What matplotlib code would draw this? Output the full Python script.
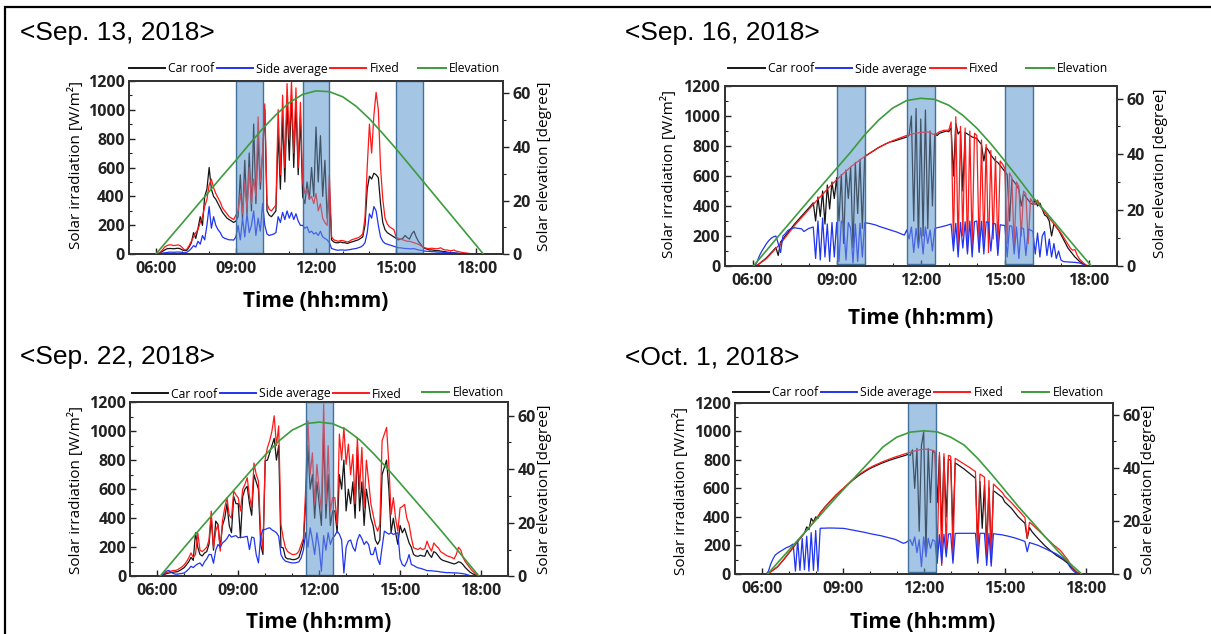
import numpy as np
import matplotlib
matplotlib.use("Agg")
import matplotlib.pyplot as plt
from matplotlib.lines import Line2D
from matplotlib.patches import Rectangle
from matplotlib.ticker import MultipleLocator

# ---------------- data (5-minute samples from 05:00 to 19:00, one row per hour) ----------------
Z12 = [0] * 12

p1_roof = (Z12 +
    [0, 3, 10, 20, 30, 38, 40, 40, 38, 40, 42, 38] +
    [30, 25, 28, 50, 80, 150, 110, 180, 260, 200, 400, 450] +
    [600, 450, 400, 380, 350, 320, 290, 270, 250, 240, 230, 220] +
    [230, 260, 550, 240, 650, 280, 700, 300, 900, 350, 800, 450] +
    [700, 1000, 300, 270, 260, 280, 300, 850, 450, 950, 500, 1050] +
    [650, 1100, 600, 1050, 550, 950, 400, 350, 500, 380, 600, 400] +
    [880, 500, 820, 400, 650, 250, 450, 100, 85, 80, 80, 85] +
    [80, 80, 75, 80, 85, 90, 95, 100, 110, 120, 200, 450] +
    [540, 520, 560, 550, 530, 350, 220, 170, 150, 140, 130, 120] +
    [110, 100, 105, 110, 130, 115, 105, 140, 160, 120, 90, 70] +
    [50, 40, 35, 30, 30, 28, 25, 25, 22, 20, 18, 15] +
    [12, 10, 10, 8, 6, 5, 4, 3, 2, 1, 0, 0] +
    Z12 + [0])
p1_side = (Z12 +
    [0, 2, 5, 8, 10, 12, 15, 15, 14, 15, 16, 15] +
    [12, 10, 15, 25, 40, 60, 50, 90, 70, 130, 100, 200] +
    [330, 180, 260, 200, 170, 150, 120, 110, 105, 100, 100, 98] +
    [120, 200, 100, 250, 120, 280, 150, 200, 300, 130, 250, 160] +
    [350, 200, 140, 130, 135, 140, 150, 260, 220, 290, 240, 300] +
    [250, 290, 240, 280, 230, 200, 200, 180, 190, 150, 160, 140] +
    [150, 130, 160, 120, 110, 100, 80, 40, 35, 30, 28, 30] +
    [30, 28, 30, 32, 35, 38, 40, 45, 50, 60, 80, 150] +
    [280, 250, 330, 300, 200, 120, 90, 75, 70, 65, 60, 55] +
    [50, 45, 45, 42, 40, 40, 38, 38, 40, 35, 30, 28] +
    [25, 22, 20, 20, 18, 18, 16, 15, 15, 14, 12, 12] +
    [10, 10, 9, 8, 6, 5, 4, 3, 2, 1, 0, 0] +
    Z12 + [0])
p1_fixed = (Z12 +
    [0, 5, 15, 30, 50, 60, 65, 65, 60, 62, 65, 60] +
    [45, 30, 35, 60, 90, 120, 150, 170, 220, 260, 330, 380] +
    [480, 520, 460, 420, 390, 360, 320, 300, 280, 260, 250, 240] +
    [270, 300, 420, 280, 500, 310, 600, 350, 520, 400, 950, 500] +
    [700, 1040, 350, 310, 300, 320, 340, 1000, 550, 1100, 600, 1180] +
    [800, 1200, 700, 1150, 600, 1050, 500, 420, 450, 380, 400, 350] +
    [420, 300, 350, 250, 220, 200, 550, 120, 100, 95, 90, 95] +
    [95, 90, 85, 90, 100, 105, 110, 115, 125, 140, 250, 600] +
    [900, 700, 960, 1120, 1000, 600, 380, 250, 210, 190, 180, 170] +
    [120, 110, 105, 100, 95, 90, 90, 85, 80, 75, 70, 60] +
    [50, 45, 40, 40, 42, 40, 38, 40, 45, 35, 30, 30] +
    [25, 25, 30, 22, 18, 15, 12, 10, 8, 5, 3, 0] +
    Z12 + [0])

p2_roof = (Z12 +
    [0, 0, 6, 17, 30, 42, 55, 72, 90, 106, 123, 70] +
    [160, 180, 200, 220, 240, 260, 280, 298, 316, 333, 350, 368] +
    [385, 403, 421, 300, 460, 330, 500, 280, 540, 380, 560, 450] +
    [590, 300, 610, 150, 640, 450, 660, 120, 690, 350, 710, 250] +
    [730, 740, 750, 760, 770, 780, 790, 798, 806, 814, 821, 828] +
    [830, 835, 840, 845, 850, 855, 860, 870, 1000, 300, 1050, 150] +
    [980, 200, 1040, 250, 900, 400, 880, 870, 885, 890, 895, 900] +
    [895, 920, 600, 950, 880, 900, 500, 890, 880, 870, 860, 855] +
    [850, 830, 810, 700, 790, 770, 740, 720, 700, 690, 670, 650] +
    [630, 610, 300, 580, 560, 540, 510, 400, 480, 460, 440, 420] +
    [410, 440, 400, 420, 380, 340, 330, 300, 200, 280, 260, 240] +
    [210, 180, 150, 120, 100, 80, 60, 45, 30, 20, 10, 0] +
    Z12 + [0])
p2_side = (Z12 +
    [0, 0, 30, 70, 100, 125, 150, 170, 185, 195, 200, 150] +
    [90, 200, 215, 235, 245, 250, 255, 252, 250, 248, 230, 240] +
    [250, 255, 260, 50, 300, 40, 320, 60, 280, 30, 290, 60] +
    [290, 30, 300, 280, 40, 290, 250, 20, 280, 30, 285, 60] +
    [288, 286, 284, 280, 276, 272, 265, 260, 255, 250, 245, 240] +
    [235, 230, 225, 218, 212, 206, 240, 180, 260, 90, 250, 120] +
    [255, 80, 260, 150, 240, 100, 250, 255, 258, 262, 266, 270] +
    [275, 280, 100, 285, 60, 290, 120, 295, 80, 300, 60, 295] +
    [300, 90, 298, 80, 295, 290, 100, 285, 280, 70, 275, 272] +
    [270, 60, 268, 265, 80, 260, 50, 255, 250, 70, 245, 240] +
    [230, 80, 220, 60, 200, 230, 70, 180, 60, 150, 50, 100] +
    [40, 30, 28, 27, 26, 25, 24, 22, 20, 15, 5, 0] +
    Z12 + [0])
p2_fixed = (Z12 +
    [0, 0, 5, 15, 27, 38, 50, 67, 84, 100, 117, 134] +
    [150, 170, 190, 210, 230, 250, 270, 288, 306, 323, 340, 358] +
    [375, 393, 411, 428, 445, 462, 480, 497, 513, 529, 545, 560] +
    [575, 590, 604, 618, 632, 646, 660, 672, 684, 696, 708, 719] +
    [730, 740, 750, 760, 770, 780, 790, 798, 806, 814, 821, 828] +
    [835, 841, 847, 853, 859, 865, 870, 874, 878, 882, 886, 888] +
    [890, 891, 893, 894, 890, 880, 875, 885, 895, 900, 905, 905] +
    [905, 960, 150, 995, 120, 930, 200, 920, 100, 900, 130, 885] +
    [870, 100, 840, 140, 810, 90, 770, 180, 730, 110, 700, 680] +
    [650, 150, 620, 590, 120, 560, 530, 200, 500, 480, 150, 450] +
    [420, 410, 440, 400, 380, 360, 340, 320, 300, 280, 260, 240] +
    [220, 195, 170, 145, 120, 105, 110, 70, 45, 30, 15, 5] +
    Z12 + [0])

p3_roof = (Z12 +
    [0, 0, 3, 10, 18, 22, 25, 28, 30, 32, 40, 50] +
    [60, 80, 100, 130, 110, 300, 200, 150, 140, 160, 170, 220] +
    [400, 180, 380, 357, 200, 350, 400, 500, 350, 300, 550, 500] +
    [500, 265, 550, 600, 620, 500, 420, 700, 650, 600, 220, 150] +
    [795, 800, 850, 900, 950, 800, 900, 200, 196, 130, 120, 120] +
    [115, 115, 120, 130, 180, 240, 500, 900, 600, 700, 400, 650] +
    [500, 350, 1000, 400, 700, 350, 450, 450, 300, 700, 600, 800] +
    [450, 600, 500, 650, 400, 887, 450, 650, 350, 600, 500, 400] +
    [350, 250, 220, 250, 700, 750, 800, 600, 300, 400, 300, 220] +
    [350, 300, 330, 280, 230, 200, 150, 140, 138, 145, 140, 138] +
    [180, 150, 130, 170, 160, 140, 120, 110, 105, 100, 95, 90] +
    [85, 90, 100, 95, 80, 60, 45, 30, 20, 12, 5, 0] +
    Z12 + [0])
p3_side = (Z12 +
    [0, 0, 5, 20, 35, 41, 30, 20, 15, 15, 18, 20] +
    [23, 35, 50, 69, 60, 75, 85, 92, 70, 100, 120, 150] +
    [150, 90, 180, 219, 200, 230, 242, 260, 288, 270, 276, 280] +
    [265, 270, 268, 272, 275, 184, 270, 265, 150, 92, 275, 322] +
    [322, 330, 334, 320, 311, 300, 276, 150, 120, 104, 100, 95] +
    [92, 92, 95, 100, 127, 180, 300, 200, 334, 250, 150, 300] +
    [200, 35, 280, 180, 300, 220, 265, 280, 311, 290, 250, 23] +
    [200, 242, 250, 200, 173, 250, 288, 260, 219, 240, 219, 150] +
    [150, 200, 120, 81, 200, 311, 300, 290, 300, 288, 295, 300] +
    [120, 81, 69, 100, 150, 81, 75, 65, 58, 55, 50, 45] +
    [39, 39, 38, 36, 35, 33, 30, 28, 26, 25, 25, 24] +
    [24, 23, 22, 20, 18, 15, 10, 5, 2, 0, 0, 0] +
    Z12 + [0])
p3_fixed = (Z12 +
    [0, 0, 5, 15, 25, 30, 35, 40, 40, 45, 55, 65] +
    [80, 100, 127, 161, 130, 150, 299, 180, 170, 184, 200, 250] +
    [449, 196, 311, 357, 173, 380, 472, 541, 420, 400, 587, 560] +
    [541, 450, 600, 633, 679, 550, 472, 780, 702, 656, 300, 180] +
    [806, 887, 933, 1000, 1105, 900, 1036, 357, 265, 196, 170, 160] +
    [150, 150, 155, 173, 219, 260, 600, 1071, 700, 850, 500, 771] +
    [600, 450, 1186, 500, 900, 450, 541, 541, 350, 979, 800, 1025] +
    [771, 910, 700, 840, 500, 956, 600, 887, 472, 800, 656, 500] +
    [426, 350, 311, 357, 933, 979, 1025, 771, 426, 541, 400, 311] +
    [472, 480, 495, 400, 357, 265, 196, 190, 184, 196, 184, 190] +
    [242, 200, 173, 230, 210, 196, 170, 160, 150, 140, 135, 130] +
    [120, 150, 200, 180, 130, 100, 80, 60, 40, 25, 10, 3] +
    Z12 + [0])

p4_roof = (Z12 +
    [0, 0, 0, 5, 15, 27, 38, 50, 68, 86, 105, 125] +
    [145, 166, 187, 208, 228, 248, 268, 287, 330, 310, 390, 365] +
    [400, 390, 428, 448, 467, 485, 502, 519, 536, 552, 567, 582] +
    [594, 609, 623, 637, 651, 664, 676, 688, 699, 709, 719, 729] +
    [738, 746, 753, 760, 767, 774, 780, 786, 792, 798, 803, 808] +
    [813, 818, 822, 827, 832, 838, 830, 870, 600, 880, 300, 900] +
    [997, 150, 880, 500, 860, 850, 500, 830, 300, 818, 400, 805] +
    [795, 300, 778, 768, 757, 746, 735, 722, 710, 697, 684, 671] +
    [200, 648, 320, 626, 200, 604, 150, 583, 572, 560, 548, 536] +
    [505, 490, 475, 460, 440, 420, 400, 385, 370, 355, 250, 325] +
    [300, 280, 262, 245, 228, 212, 196, 182, 168, 155, 142, 130] +
    [120, 110, 100, 88, 75, 55, 40, 25, 12, 5, 0, 0] +
    Z12 + [0])
p4_side = (Z12 +
    [0, 0, 0, 20, 70, 105, 133, 145, 156, 165, 175, 185] +
    [190, 200, 210, 20, 238, 25, 250, 30, 265, 20, 290, 25] +
    [305, 20, 320, 321, 321, 322, 322, 322, 322, 321, 321, 320] +
    [320, 318, 315, 312, 309, 306, 303, 300, 297, 294, 291, 287] +
    [283, 280, 277, 274, 271, 268, 264, 260, 256, 252, 248, 244] +
    [238, 230, 222, 215, 220, 230, 240, 200, 260, 150, 240, 51] +
    [260, 120, 250, 180, 240, 230, 75, 275, 75, 278, 120, 280] +
    [282, 75, 284, 285, 285, 285, 285, 285, 285, 285, 285, 285] +
    [75, 285, 285, 285, 60, 284, 55, 282, 280, 278, 276, 274] +
    [270, 267, 263, 259, 255, 250, 245, 240, 234, 228, 156, 220] +
    [215, 210, 205, 200, 192, 185, 178, 170, 162, 155, 148, 140] +
    [130, 120, 110, 100, 80, 50, 30, 15, 5, 0, 0, 0] +
    Z12 + [0])
p4_fixed = (Z12 +
    [0, 0, 0, 5, 15, 27, 38, 50, 68, 86, 105, 125] +
    [145, 166, 187, 208, 228, 248, 268, 287, 306, 325, 343, 361] +
    [385, 407, 428, 448, 467, 485, 502, 519, 536, 552, 567, 582] +
    [598, 613, 628, 642, 656, 669, 681, 693, 704, 715, 725, 735] +
    [744, 752, 760, 767, 774, 781, 788, 794, 800, 806, 812, 818] +
    [823, 828, 833, 838, 843, 848, 853, 858, 862, 866, 869, 872] +
    [875, 874, 872, 870, 866, 862, 100, 852, 60, 843, 150, 831] +
    [825, 100, 810, 800, 790, 780, 770, 760, 750, 740, 728, 718] +
    [120, 700, 690, 678, 100, 655, 80, 630, 615, 600, 585, 570] +
    [545, 530, 515, 500, 483, 466, 448, 430, 412, 395, 250, 362] +
    [350, 335, 320, 305, 290, 275, 260, 245, 230, 215, 200, 188] +
    [175, 160, 140, 120, 100, 70, 45, 30, 15, 5, 0, 0] +
    Z12 + [0])

# solar elevation (hours, degrees)
p1_elev_t = [6.0, 6.5, 7.0, 7.5, 8.0, 8.5, 9.0, 9.5, 10.0, 10.5, 11.0, 11.5, 12.0,
             12.5, 13.0, 13.5, 14.0, 14.5, 15.0, 15.5, 16.0, 16.5, 17.0, 17.5, 18.0, 18.27]
p1_elev = [0, 5.9, 11.7, 17.6, 23.4, 29.3, 35.0, 41.0, 46.8, 52.0, 56.5, 59.6, 60.9,
           60.6, 58.7, 55.2, 50.5, 45.0, 39.3, 33.3, 27.3, 21.3, 15.3, 9.3, 3.3, 0]
p2_elev_t = [6.03, 6.5, 7.0, 7.5, 8.0, 8.5, 9.0, 9.5, 10.0, 10.5, 11.0, 11.5, 12.0,
             12.5, 13.0, 13.5, 14.0, 14.5, 15.0, 15.5, 16.0, 16.5, 17.0, 17.5, 18.0, 18.08]
p2_elev = [0, 5.6, 11.6, 17.5, 23.4, 29.2, 35.0, 40.8, 47.0, 52.3, 56.6, 59.3, 60.1,
           59.7, 57.6, 54.0, 49.4, 43.8, 37.6, 31.2, 24.6, 18.9, 12.9, 6.9, 1.0, 0]
p3_elev_t = [6.1, 6.5, 7.0, 7.5, 8.0, 8.5, 9.0, 9.5, 10.0, 10.5, 11.0, 11.5, 12.0,
             12.5, 13.0, 13.5, 14.0, 14.5, 15.0, 15.5, 16.0, 16.5, 17.0, 17.5, 17.93]
p3_elev = [0, 4.8, 10.8, 16.7, 22.5, 28.3, 34.0, 39.8, 45.3, 50.5, 54.6, 57.0, 57.6,
           57.0, 54.8, 51.0, 46.0, 40.6, 34.8, 29.0, 23.2, 17.3, 11.3, 5.2, 0]
p4_elev_t = [6.22, 6.5, 7.0, 7.5, 8.0, 8.5, 9.0, 9.5, 10.0, 10.5, 11.0, 11.5, 12.0,
             12.5, 13.0, 13.5, 14.0, 14.5, 15.0, 15.5, 16.0, 16.5, 17.0, 17.5, 17.85]
p4_elev = [0, 3.2, 8.9, 14.6, 20.3, 26.0, 31.6, 37.0, 42.5, 48.0, 51.6, 53.5, 54.0,
           53.6, 51.6, 48.6, 43.6, 37.8, 31.7, 25.5, 19.8, 14.0, 8.3, 3.2, 0]

# highlighted time windows (hours)
p1_windows = [(9.0, 10.0), (11.5, 12.5), (15.0, 16.0)]
p2_windows = [(9.0, 10.0), (11.5, 12.5), (15.0, 16.0)]
p3_windows = [(11.5, 12.5)]
p4_windows = [(11.42, 12.45)]

titles = ["<Sep. 13, 2018>", "<Sep. 16, 2018>", "<Sep. 22, 2018>", "<Oct. 1, 2018>"]
series_labels = ["Car roof", "Side average", "Fixed", "Elevation"]
xtick_pos = [6, 9, 12, 15, 18]
xtick_labels = ["06:00", "09:00", "12:00", "15:00", "18:00"]

# ---------------- drawing ----------------
W, H = 1211, 634
fig = plt.figure(figsize=(W / 100, H / 100), dpi=100)

def fx(px):
    return px / W

def fy(py):
    return 1 - py / H

t5 = 5 + np.arange(169) / 12.0

C_ROOF, C_SIDE, C_FIXED, C_ELEV = "#151515", "#1f33f2", "#ff1818", "#3c9c3c"
AX_FONT = "Open Sans"

# outer frame
fig.add_artist(Rectangle((fx(5), -0.1), 1.2, fy(7) + 0.1, transform=fig.transFigure,
                         fill=False, edgecolor="black", lw=1.6))

panels = [
    dict(title=titles[0], box=(129, 503, 80.7, 254.3), rtop=64.7,
         roof=p1_roof, side=p1_side, fixed=p1_fixed, et=p1_elev_t, ev=p1_elev, win=p1_windows,
         tpos=(20, 33), ylab=(75.6, 165), rlab=(544.6, 166), xlab=(316, 302),
         leg1=(129, 69), leg2=(418, 69)),
    dict(title=titles[1], box=(724.5, 1117, 86, 266), rtop=64.5,
         roof=p2_roof, side=p2_side, fixed=p2_fixed, et=p2_elev_t, ev=p2_elev, win=p2_windows,
         tpos=(625, 33), ylab=(669, 174), rlab=(1161, 173), xlab=(921, 318),
         leg1=(728.4, 69), leg2=(1026, 69)),
    dict(title=titles[2], box=(130.3, 508, 402, 576.3), rtop=65.1,
         roof=p3_roof, side=p3_side, fixed=p3_fixed, et=p3_elev_t, ev=p3_elev, win=p3_windows,
         tpos=(20, 357), ylab=(75.6, 490), rlab=(544.6, 489), xlab=(319, 623),
         leg1=(131.8, 394), leg2=(421.7, 392.5)),
    dict(title=titles[3], box=(734.7, 1112.7, 402.7, 574), rtop=64.6,
         roof=p4_roof, side=p4_side, fixed=p4_fixed, et=p4_elev_t, ev=p4_elev, win=p4_windows,
         tpos=(625, 357), ylab=(680.7, 491), rlab=(1148.5, 489), xlab=(923, 623),
         leg1=(733, 392.7), leg2=(1021.7, 392.7)),
]

for p in panels:
    L, R, T, B = p["box"]
    ax = fig.add_axes([fx(L), fy(B), (R - L) / W, (B - T) / H])
    ax.set_xlim(5, 19)
    ax.set_ylim(0, 1200)

    for (a, b) in p["win"]:
        ax.axvspan(a, b, ymin=0.01, ymax=1.0, facecolor="#cae5fa", edgecolor="none", zorder=0)

    ax.plot(t5, p["roof"], color=C_ROOF, lw=0.9, zorder=2)
    ax.plot(t5, p["fixed"], color=C_FIXED, lw=0.9, zorder=2.1)
    ax.plot(t5, p["side"], color=C_SIDE, lw=0.9, zorder=2.2)

    for (a, b) in p["win"]:
        ax.axvspan(a, b, ymin=0.01, ymax=1.0, facecolor=(120 / 255, 160 / 255, 205 / 255, 0.45),
                   edgecolor="#41719c", lw=1.0, zorder=3)

    ax.set_xticks(xtick_pos)
    ax.set_xticklabels(xtick_labels, fontfamily=AX_FONT, fontweight="bold", fontsize=11.5)
    ax.xaxis.set_minor_locator(MultipleLocator(1))
    ax.set_yticks(range(0, 1201, 200))
    ax.set_yticklabels([str(v) for v in range(0, 1201, 200)], fontfamily=AX_FONT,
                       fontweight="bold", fontsize=11.5)
    ax.yaxis.set_minor_locator(MultipleLocator(100))
    ax.tick_params(axis="both", which="major", direction="in", length=4, width=1, pad=3,
                   colors="#222222")
    ax.tick_params(axis="both", which="minor", direction="in", length=2.5, width=0.8,
                   colors="#222222")
    ax.tick_params(axis="x", which="major", pad=5)
    for s in ax.spines.values():
        s.set_linewidth(1.3)
        s.set_color("#333333")

    ax2 = ax.twinx()
    ax2.set_ylim(0, p["rtop"])
    ax2.plot(p["et"], p["ev"], color=C_ELEV, lw=1.2, zorder=5)
    ax2.set_yticks([0, 20, 40, 60])
    ax2.set_yticklabels(["0", "20", "40", "60"], fontfamily=AX_FONT, fontweight="bold",
                        fontsize=11.5)
    ax2.yaxis.set_minor_locator(MultipleLocator(10))
    ax2.tick_params(axis="y", which="major", direction="out", length=4, width=1, pad=3,
                    colors="#222222")
    ax2.tick_params(axis="y", which="minor", direction="out", length=2, width=0.8,
                    colors="#222222")
    for s in ax2.spines.values():
        s.set_linewidth(1.3)
        s.set_color("#333333")

    fig.text(fx(p["tpos"][0]), fy(p["tpos"][1]), p["title"], family="Liberation Sans",
             fontsize=19, ha="left", va="center")
    fig.text(fx(p["ylab"][0]), fy(p["ylab"][1]), "Solar irradiation [W/m\u00b2]",
             family=AX_FONT, fontsize=11, rotation=90, ha="center", va="center")
    fig.text(fx(p["rlab"][0]), fy(p["rlab"][1]), "Solar elevation [degree]",
             family=AX_FONT, fontsize=11, rotation=90, ha="center", va="center")
    fig.text(fx(p["xlab"][0]), fy(p["xlab"][1]), "Time (hh:mm)", family=AX_FONT,
             fontweight="bold", fontsize=15, ha="center", va="center")

    h1 = [Line2D([], [], color=c, lw=1.4) for c in (C_ROOF, C_SIDE, C_FIXED)]
    fig.legend(h1, series_labels[:3], loc="center left",
               bbox_to_anchor=(fx(p["leg1"][0]), fy(p["leg1"][1])), ncol=3, frameon=False,
               prop={"family": AX_FONT, "size": 8.7}, handlelength=3.0, handletextpad=0.25,
               columnspacing=0.2, borderpad=0, borderaxespad=0)
    h2 = [Line2D([], [], color=C_ELEV, lw=1.4)]
    fig.legend(h2, series_labels[3:], loc="center left",
               bbox_to_anchor=(fx(p["leg2"][0]), fy(p["leg2"][1])), ncol=1, frameon=False,
               prop={"family": AX_FONT, "size": 8.7}, handlelength=2.3, handletextpad=0.25,
               borderpad=0, borderaxespad=0)

fig.savefig("out.png", dpi=100)
